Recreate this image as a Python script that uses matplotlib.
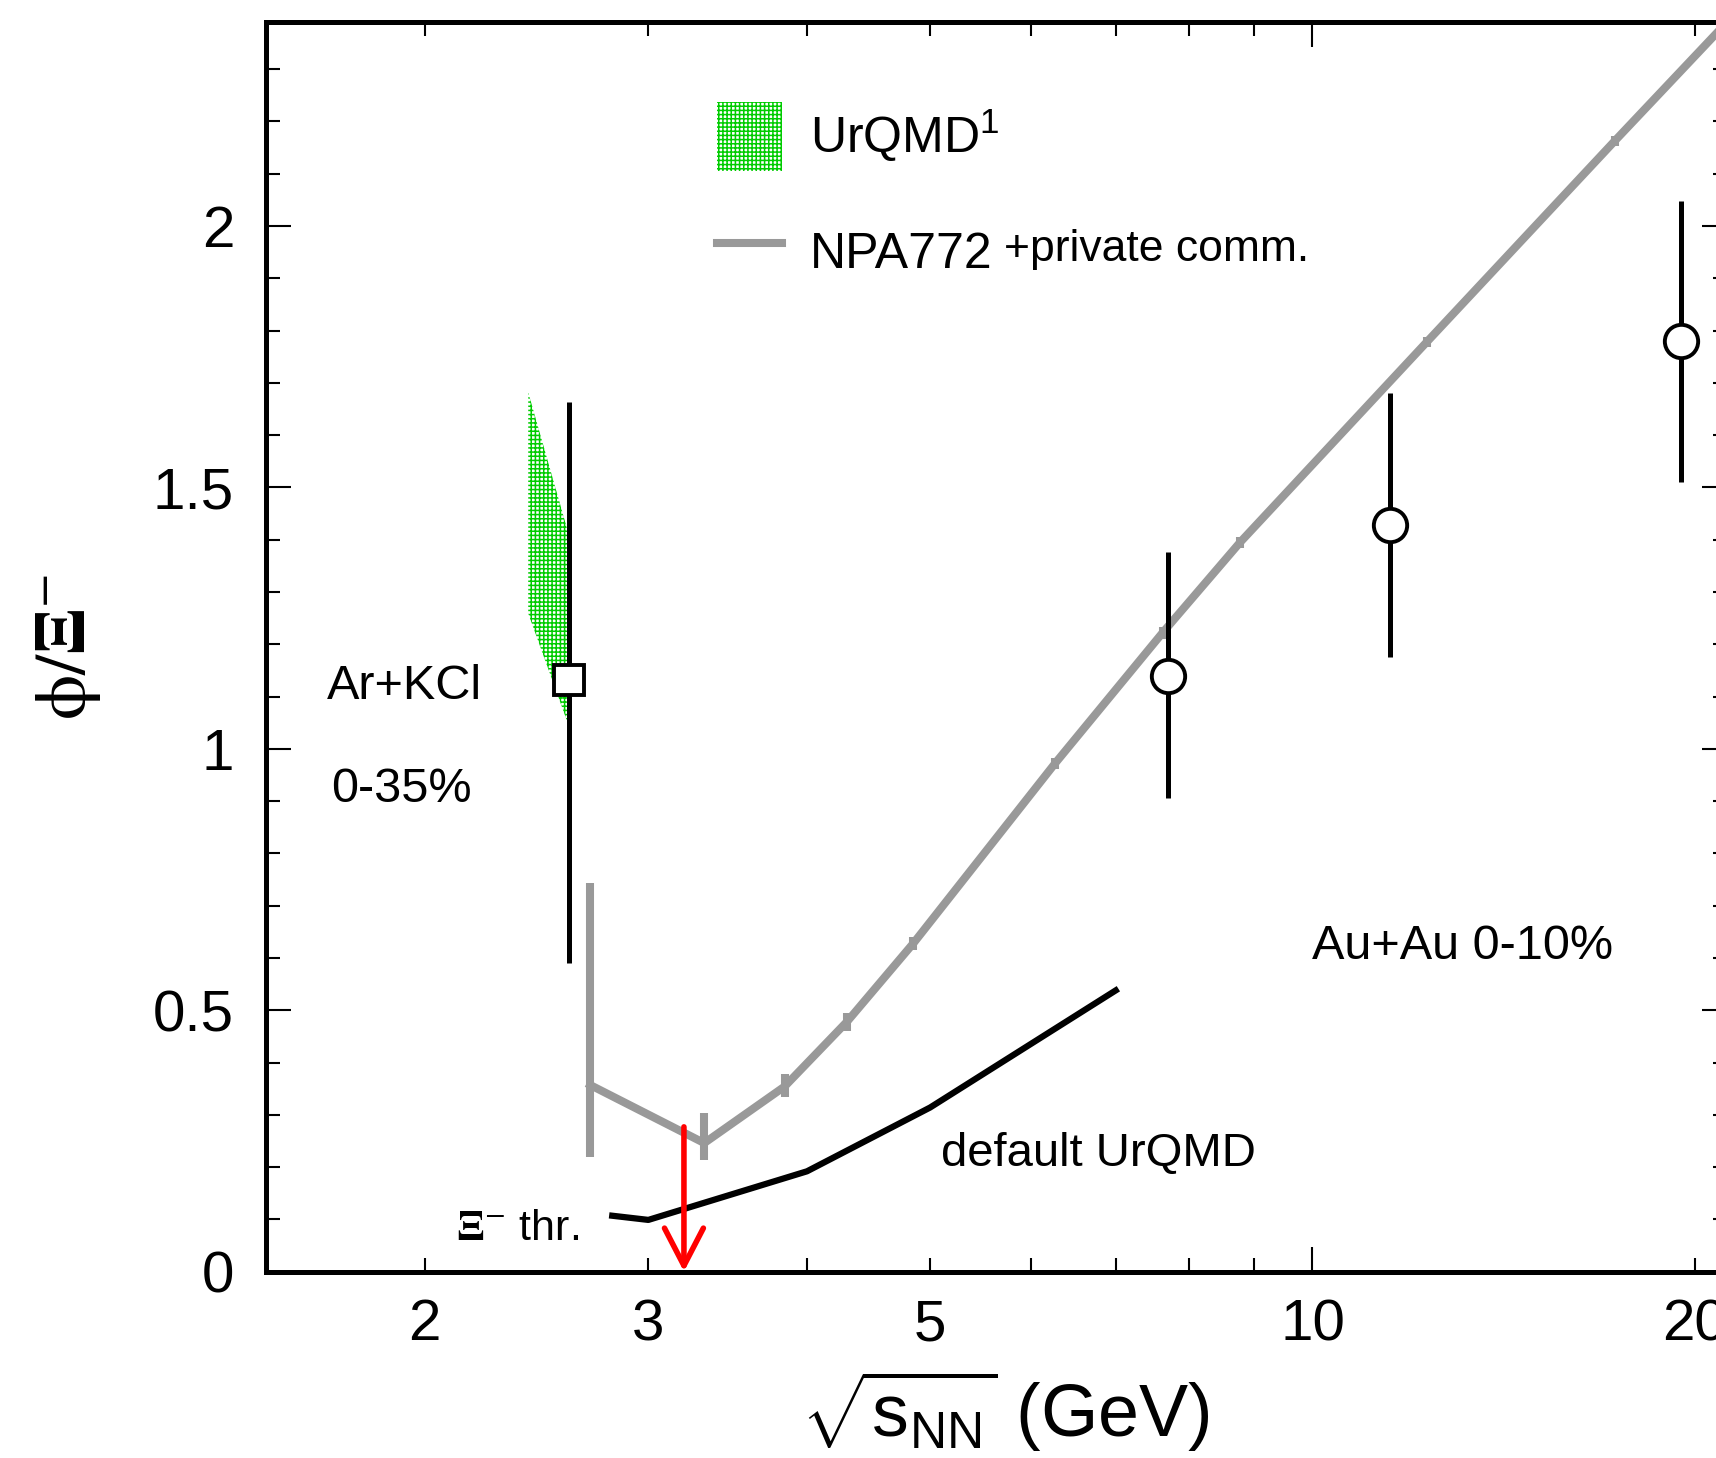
import numpy as np
import matplotlib
matplotlib.use('Agg')
import matplotlib.pyplot as plt
from matplotlib.ticker import FixedLocator, FuncFormatter, MultipleLocator
from matplotlib.lines import Line2D
from matplotlib.patches import Patch

plt.rcParams['font.family'] = ['Liberation Sans', 'DejaVu Sans']
plt.rcParams['mathtext.fontset'] = 'custom'
plt.rcParams['mathtext.rm'] = 'Liberation Sans'
plt.rcParams['mathtext.it'] = 'Liberation Sans:italic'
plt.rcParams['mathtext.bf'] = 'Liberation Sans:bold'
plt.rcParams['hatch.linewidth'] = 1.1

# NPA772 + private comm. (grey curve)
npa_x = [2.70, 3.32, 3.84, 4.30, 4.85, 6.27, 7.62, 8.77, 12.3, 17.3, 21.2]
npa_y = [0.357, 0.246, 0.354, 0.478, 0.628, 0.972, 1.222, 1.395, 1.778, 2.163, 2.39]
npa_lo = [0.137, 0.033, 0.020, 0.017, 0.012, 0.010, 0.012, 0.010, 0.010, 0.010, 0.0]
npa_hi = [0.386, 0.057, 0.024, 0.017, 0.012, 0.010, 0.012, 0.010, 0.010, 0.010, 0.0]

# default UrQMD (black curve)
def_x = [2.81, 3.0, 4.0, 5.0, 7.0]
def_y = [0.107, 0.099, 0.192, 0.314, 0.538]

# UrQMD band for Ar+KCl
band_x = [2.413, 2.604]
band_hi = [1.682, 1.40]
band_lo = [1.259, 1.036]

# Ar+KCl 0-35%
ark_x = [2.6]
ark_y = [1.132]
ark_lo = [0.542]
ark_hi = [0.531]

# Au+Au 0-10%
au_x = [7.7, 11.5, 19.5]
au_y = [1.140, 1.429, 1.780]
au_lo = [0.234, 0.253, 0.270]
au_hi = [0.236, 0.252, 0.268]

# Xi- threshold
thr_x = 3.2
thr_top = 0.277

grey = '#999999'
green = '#00cc00'

fig = plt.figure(figsize=(17.16, 14.58), dpi=100)
ax = fig.add_axes([0.155, 0.1278, 0.8514, 0.857])

ax.fill_between(band_x, band_lo, band_hi, facecolor='white', edgecolor=green,
                hatch='++++', linewidth=0, zorder=1)

ax.errorbar(npa_x, npa_y, yerr=[npa_lo, npa_hi], color=grey, lw=5.8,
            elinewidth=5.8, capsize=0, zorder=2)
ax.plot(def_x, def_y, color='black', lw=4.5, zorder=2)

ax.errorbar(ark_x, ark_y, yerr=[ark_lo, ark_hi], fmt='s', ms=22, mfc='white',
            mec='black', mew=2.8, ecolor='black', elinewidth=3.6, capsize=0, zorder=3)
ax.errorbar(au_x, au_y, yerr=[au_lo, au_hi], fmt='o', ms=24, mfc='white',
            mec='black', mew=2.8, ecolor='black', elinewidth=3.6, capsize=0, zorder=3)

ax.annotate('', xy=(thr_x, 0), xytext=(thr_x, thr_top),
            arrowprops=dict(arrowstyle='->,head_length=1.35,head_width=0.7',
                            color='red', lw=4, shrinkA=0, shrinkB=0,
                            mutation_scale=20), zorder=4)

ax.set_xscale('log')
ax.set_xlim(1.5, 21.2)
ax.set_ylim(0, 2.39)

ax.xaxis.set_major_locator(FixedLocator([10]))
ax.xaxis.set_minor_locator(FixedLocator([2, 3, 4, 5, 6, 7, 8, 9, 20]))
ax.xaxis.set_major_formatter(FuncFormatter(lambda v, p: '%g' % v))
ax.xaxis.set_minor_formatter(FuncFormatter(lambda v, p: '%g' % v if v in (2, 3, 5, 20) else ''))
ax.yaxis.set_major_locator(MultipleLocator(0.5))
ax.yaxis.set_minor_locator(MultipleLocator(0.1))
ax.yaxis.set_major_formatter(FuncFormatter(lambda v, p: '%g' % v))

ax.tick_params(which='both', direction='in', top=True, right=True, width=1.5, labelsize=42)
ax.tick_params(which='major', length=18)
ax.tick_params(which='minor', length=10)
ax.tick_params(axis='x', which='both', pad=19)
ax.tick_params(axis='y', which='both', pad=23)
for s in ax.spines.values():
    s.set_linewidth(3.6)

ax.text(1.676, 1.096, 'Ar+KCl', fontsize=35, va='baseline')
ax.text(1.689, 0.8975, '0-35%', fontsize=35, va='baseline')
ax.text(10.0, 0.598, 'Au+Au 0-10%', fontsize=35, va='baseline')
ax.text(5.1, 0.203, 'default UrQMD', fontsize=34, va='baseline')
ax.text(2.118, 0.0607, r'$\mathbf{\Xi}^{-}$ thr.', fontsize=31, va='baseline',
        math_fontfamily='stix')

handles = [Patch(facecolor='white', edgecolor=green, hatch='++++', linewidth=0),
           Line2D([], [], color=grey, lw=5.8)]
ax.legend(handles, [r'UrQMD$^{1}$', 'NPA772'], loc='upper left',
          bbox_to_anchor=(0.309, 0.936), frameon=False, fontsize=36,
          handlelength=1.3, handleheight=1.75, handletextpad=0.55,
          labelspacing=0.92, borderpad=0, borderaxespad=0)
ax.text(0.505, 0.809, '+private comm.', fontsize=32, va='baseline', transform=ax.transAxes)

ax.text(0.506, -0.112, r'$\sqrt{\mathrm{s}_{\mathrm{NN}}}$ (GeV)', fontsize=53,
        ha='center', va='center', transform=ax.transAxes)
ax.text(-0.135, 0.5, r'$\mathrm{\phi}/\mathbf{\Xi}^{-}$', fontsize=52, rotation=90,
        ha='center', va='center', transform=ax.transAxes, math_fontfamily='stix')

fig.savefig('out.png', dpi=100)
